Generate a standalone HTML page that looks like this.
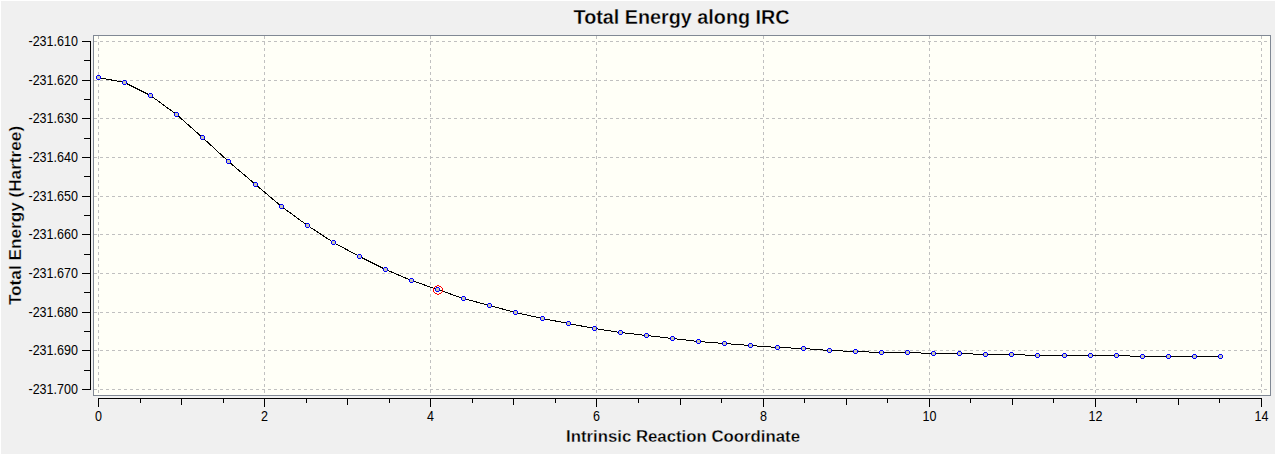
<!DOCTYPE html>
<html><head><meta charset="utf-8"><style>
html,body{margin:0;padding:0;background:#F0F0F0;overflow:hidden;width:1275px;height:454px}
svg{display:block}
text{font-family:"Liberation Sans",sans-serif}
</style></head><body>
<svg width="1275" height="454" viewBox="0 0 1275 454" shape-rendering="crispEdges">
<rect x="0" y="0" width="1275" height="454" fill="#F0F0F0"/>
<path d="M0 0h1275v1h-1275zM0 0h1v454h-1z" fill="#FFFFFF"/>
<rect x="93" y="35" width="1178" height="361" fill="#808894"/>
<rect x="94" y="36" width="1176" height="359" fill="#FFFFF7"/>
<path d="M98.5 36V395 M264.5 36V395 M430.5 36V395 M596.5 36V395 M763.5 36V395 M929.5 36V395 M1095.5 36V395 M1261.5 36V395 M94 41.5H1270 M94 80.5H1270 M94 118.5H1270 M94 157.5H1270 M94 196.5H1270 M94 234.5H1270 M94 273.5H1270 M94 312.5H1270 M94 350.5H1270 M94 389.5H1270" stroke="#C0C0C0" stroke-width="1" stroke-dasharray="3 3" fill="none"/>
<path d="M90.5 41V390 M82 41.5H90 M82 80.5H90 M82 118.5H90 M82 157.5H90 M82 196.5H90 M82 234.5H90 M82 273.5H90 M82 312.5H90 M82 350.5H90 M82 389.5H90 M84 60.5H90 M84 99.5H90 M84 138.5H90 M84 176.5H90 M84 215.5H90 M84 254.5H90 M84 292.5H90 M84 331.5H90 M84 370.5H90 M98 398.5H1262 M98.5 399V407 M140.5 399V403 M181.5 399V405 M223.5 399V403 M264.5 399V407 M306.5 399V403 M347.5 399V405 M389.5 399V403 M430.5 399V407 M472.5 399V403 M513.5 399V405 M555.5 399V403 M596.5 399V407 M638.5 399V403 M680.5 399V405 M721.5 399V403 M763.5 399V407 M804.5 399V403 M846.5 399V405 M887.5 399V403 M929.5 399V407 M970.5 399V403 M1012.5 399V405 M1053.5 399V403 M1095.5 399V407 M1136.5 399V403 M1178.5 399V405 M1219.5 399V403 M1261.5 399V407" stroke="#000" stroke-width="1" fill="none"/>
<path d="M98.5 77.5 L124.5 82.5 L150.5 95.5 L176.5 114.5 L202.5 137.5 L228.5 161.5 L255.5 184.5 L281.5 206.5 L307.5 225.5 L333.5 242.5 L359.5 256.5 L385.5 269.5 L411.5 280.5 L437.5 289.5 L463.5 298.5 L489.5 305.5 L515.5 312.5 L542.5 318.5 L568.5 323.5 L594.5 328.5 L620.5 332.5 L646.5 335.5 L672.5 338.5 L698.5 341.5 L724.5 343.5 L750.5 345.5 L777.5 347.5 L803.5 348.5 L829.5 350.5 L855.5 351.5 L881.5 352.5 L907.5 352.5 L933.5 353.5 L959.5 353.5 L985.5 354.5 L1011.5 354.5 L1037.5 355.5 L1064.5 355.5 L1090.5 355.5 L1116.5 355.5 L1142.5 356.5 L1168.5 356.5 L1194.5 356.5 L1220.5 356.5" stroke="#000" stroke-width="1" fill="none"/>
<rect x="97" y="76" width="3" height="3" fill="#C8C7B4"/>
<path d="M97 75h3v1h-3zM97 79h3v1h-3zM96 76h1v3h-1zM100 76h1v3h-1z" fill="#0000FF"/>
<rect x="123" y="81" width="3" height="3" fill="#C8C7B4"/>
<path d="M123 80h3v1h-3zM123 84h3v1h-3zM122 81h1v3h-1zM126 81h1v3h-1z" fill="#0000FF"/>
<rect x="149" y="94" width="3" height="3" fill="#C8C7B4"/>
<path d="M149 93h3v1h-3zM149 97h3v1h-3zM148 94h1v3h-1zM152 94h1v3h-1z" fill="#0000FF"/>
<rect x="175" y="113" width="3" height="3" fill="#C8C7B4"/>
<path d="M175 112h3v1h-3zM175 116h3v1h-3zM174 113h1v3h-1zM178 113h1v3h-1z" fill="#0000FF"/>
<rect x="201" y="136" width="3" height="3" fill="#C8C7B4"/>
<path d="M201 135h3v1h-3zM201 139h3v1h-3zM200 136h1v3h-1zM204 136h1v3h-1z" fill="#0000FF"/>
<rect x="227" y="160" width="3" height="3" fill="#C8C7B4"/>
<path d="M227 159h3v1h-3zM227 163h3v1h-3zM226 160h1v3h-1zM230 160h1v3h-1z" fill="#0000FF"/>
<rect x="254" y="183" width="3" height="3" fill="#C8C7B4"/>
<path d="M254 182h3v1h-3zM254 186h3v1h-3zM253 183h1v3h-1zM257 183h1v3h-1z" fill="#0000FF"/>
<rect x="280" y="205" width="3" height="3" fill="#C8C7B4"/>
<path d="M280 204h3v1h-3zM280 208h3v1h-3zM279 205h1v3h-1zM283 205h1v3h-1z" fill="#0000FF"/>
<rect x="306" y="224" width="3" height="3" fill="#C8C7B4"/>
<path d="M306 223h3v1h-3zM306 227h3v1h-3zM305 224h1v3h-1zM309 224h1v3h-1z" fill="#0000FF"/>
<rect x="332" y="241" width="3" height="3" fill="#C8C7B4"/>
<path d="M332 240h3v1h-3zM332 244h3v1h-3zM331 241h1v3h-1zM335 241h1v3h-1z" fill="#0000FF"/>
<rect x="358" y="255" width="3" height="3" fill="#C8C7B4"/>
<path d="M358 254h3v1h-3zM358 258h3v1h-3zM357 255h1v3h-1zM361 255h1v3h-1z" fill="#0000FF"/>
<rect x="384" y="268" width="3" height="3" fill="#C8C7B4"/>
<path d="M384 267h3v1h-3zM384 271h3v1h-3zM383 268h1v3h-1zM387 268h1v3h-1z" fill="#0000FF"/>
<rect x="410" y="279" width="3" height="3" fill="#C8C7B4"/>
<path d="M410 278h3v1h-3zM410 282h3v1h-3zM409 279h1v3h-1zM413 279h1v3h-1z" fill="#0000FF"/>
<rect x="436" y="288" width="3" height="3" fill="#C8C7B4"/>
<path d="M436 287h3v1h-3zM436 291h3v1h-3zM435 288h1v3h-1zM439 288h1v3h-1z" fill="#0000FF"/>
<rect x="462" y="297" width="3" height="3" fill="#C8C7B4"/>
<path d="M462 296h3v1h-3zM462 300h3v1h-3zM461 297h1v3h-1zM465 297h1v3h-1z" fill="#0000FF"/>
<rect x="488" y="304" width="3" height="3" fill="#C8C7B4"/>
<path d="M488 303h3v1h-3zM488 307h3v1h-3zM487 304h1v3h-1zM491 304h1v3h-1z" fill="#0000FF"/>
<rect x="514" y="311" width="3" height="3" fill="#C8C7B4"/>
<path d="M514 310h3v1h-3zM514 314h3v1h-3zM513 311h1v3h-1zM517 311h1v3h-1z" fill="#0000FF"/>
<rect x="541" y="317" width="3" height="3" fill="#C8C7B4"/>
<path d="M541 316h3v1h-3zM541 320h3v1h-3zM540 317h1v3h-1zM544 317h1v3h-1z" fill="#0000FF"/>
<rect x="567" y="322" width="3" height="3" fill="#C8C7B4"/>
<path d="M567 321h3v1h-3zM567 325h3v1h-3zM566 322h1v3h-1zM570 322h1v3h-1z" fill="#0000FF"/>
<rect x="593" y="327" width="3" height="3" fill="#C8C7B4"/>
<path d="M593 326h3v1h-3zM593 330h3v1h-3zM592 327h1v3h-1zM596 327h1v3h-1z" fill="#0000FF"/>
<rect x="619" y="331" width="3" height="3" fill="#C8C7B4"/>
<path d="M619 330h3v1h-3zM619 334h3v1h-3zM618 331h1v3h-1zM622 331h1v3h-1z" fill="#0000FF"/>
<rect x="645" y="334" width="3" height="3" fill="#C8C7B4"/>
<path d="M645 333h3v1h-3zM645 337h3v1h-3zM644 334h1v3h-1zM648 334h1v3h-1z" fill="#0000FF"/>
<rect x="671" y="337" width="3" height="3" fill="#C8C7B4"/>
<path d="M671 336h3v1h-3zM671 340h3v1h-3zM670 337h1v3h-1zM674 337h1v3h-1z" fill="#0000FF"/>
<rect x="697" y="340" width="3" height="3" fill="#C8C7B4"/>
<path d="M697 339h3v1h-3zM697 343h3v1h-3zM696 340h1v3h-1zM700 340h1v3h-1z" fill="#0000FF"/>
<rect x="723" y="342" width="3" height="3" fill="#C8C7B4"/>
<path d="M723 341h3v1h-3zM723 345h3v1h-3zM722 342h1v3h-1zM726 342h1v3h-1z" fill="#0000FF"/>
<rect x="749" y="344" width="3" height="3" fill="#C8C7B4"/>
<path d="M749 343h3v1h-3zM749 347h3v1h-3zM748 344h1v3h-1zM752 344h1v3h-1z" fill="#0000FF"/>
<rect x="776" y="346" width="3" height="3" fill="#C8C7B4"/>
<path d="M776 345h3v1h-3zM776 349h3v1h-3zM775 346h1v3h-1zM779 346h1v3h-1z" fill="#0000FF"/>
<rect x="802" y="347" width="3" height="3" fill="#C8C7B4"/>
<path d="M802 346h3v1h-3zM802 350h3v1h-3zM801 347h1v3h-1zM805 347h1v3h-1z" fill="#0000FF"/>
<rect x="828" y="349" width="3" height="3" fill="#C8C7B4"/>
<path d="M828 348h3v1h-3zM828 352h3v1h-3zM827 349h1v3h-1zM831 349h1v3h-1z" fill="#0000FF"/>
<rect x="854" y="350" width="3" height="3" fill="#C8C7B4"/>
<path d="M854 349h3v1h-3zM854 353h3v1h-3zM853 350h1v3h-1zM857 350h1v3h-1z" fill="#0000FF"/>
<rect x="880" y="351" width="3" height="3" fill="#C8C7B4"/>
<path d="M880 350h3v1h-3zM880 354h3v1h-3zM879 351h1v3h-1zM883 351h1v3h-1z" fill="#0000FF"/>
<rect x="906" y="351" width="3" height="3" fill="#C8C7B4"/>
<path d="M906 350h3v1h-3zM906 354h3v1h-3zM905 351h1v3h-1zM909 351h1v3h-1z" fill="#0000FF"/>
<rect x="932" y="352" width="3" height="3" fill="#C8C7B4"/>
<path d="M932 351h3v1h-3zM932 355h3v1h-3zM931 352h1v3h-1zM935 352h1v3h-1z" fill="#0000FF"/>
<rect x="958" y="352" width="3" height="3" fill="#C8C7B4"/>
<path d="M958 351h3v1h-3zM958 355h3v1h-3zM957 352h1v3h-1zM961 352h1v3h-1z" fill="#0000FF"/>
<rect x="984" y="353" width="3" height="3" fill="#C8C7B4"/>
<path d="M984 352h3v1h-3zM984 356h3v1h-3zM983 353h1v3h-1zM987 353h1v3h-1z" fill="#0000FF"/>
<rect x="1010" y="353" width="3" height="3" fill="#C8C7B4"/>
<path d="M1010 352h3v1h-3zM1010 356h3v1h-3zM1009 353h1v3h-1zM1013 353h1v3h-1z" fill="#0000FF"/>
<rect x="1036" y="354" width="3" height="3" fill="#C8C7B4"/>
<path d="M1036 353h3v1h-3zM1036 357h3v1h-3zM1035 354h1v3h-1zM1039 354h1v3h-1z" fill="#0000FF"/>
<rect x="1063" y="354" width="3" height="3" fill="#C8C7B4"/>
<path d="M1063 353h3v1h-3zM1063 357h3v1h-3zM1062 354h1v3h-1zM1066 354h1v3h-1z" fill="#0000FF"/>
<rect x="1089" y="354" width="3" height="3" fill="#C8C7B4"/>
<path d="M1089 353h3v1h-3zM1089 357h3v1h-3zM1088 354h1v3h-1zM1092 354h1v3h-1z" fill="#0000FF"/>
<rect x="1115" y="354" width="3" height="3" fill="#C8C7B4"/>
<path d="M1115 353h3v1h-3zM1115 357h3v1h-3zM1114 354h1v3h-1zM1118 354h1v3h-1z" fill="#0000FF"/>
<rect x="1141" y="355" width="3" height="3" fill="#C8C7B4"/>
<path d="M1141 354h3v1h-3zM1141 358h3v1h-3zM1140 355h1v3h-1zM1144 355h1v3h-1z" fill="#0000FF"/>
<rect x="1167" y="355" width="3" height="3" fill="#C8C7B4"/>
<path d="M1167 354h3v1h-3zM1167 358h3v1h-3zM1166 355h1v3h-1zM1170 355h1v3h-1z" fill="#0000FF"/>
<rect x="1193" y="355" width="3" height="3" fill="#C8C7B4"/>
<path d="M1193 354h3v1h-3zM1193 358h3v1h-3zM1192 355h1v3h-1zM1196 355h1v3h-1z" fill="#0000FF"/>
<rect x="1219" y="355" width="3" height="3" fill="#C8C7B4"/>
<path d="M1219 354h3v1h-3zM1219 358h3v1h-3zM1218 355h1v3h-1zM1222 355h1v3h-1z" fill="#0000FF"/>
<path d="M437 285h1v1h-1zM438 285h1v1h-1zM435 286h1v1h-1zM436 286h1v1h-1zM439 286h1v1h-1zM440 286h1v1h-1zM434 287h1v1h-1zM441 287h1v1h-1zM433 288h1v1h-1zM442 288h1v1h-1zM433 289h1v1h-1zM442 289h1v1h-1zM433 290h1v1h-1zM442 290h1v1h-1zM433 291h1v1h-1zM442 291h1v1h-1zM434 292h1v1h-1zM441 292h1v1h-1zM435 293h1v1h-1zM436 293h1v1h-1zM439 293h1v1h-1zM440 293h1v1h-1zM437 294h1v1h-1zM438 294h1v1h-1z" fill="#FF0000"/>
<g font-family="Liberation Sans, sans-serif" fill="#000" shape-rendering="auto"><text transform="translate(78 46) scale(0.91 1)" text-anchor="end" font-size="13.8">-231.610</text>
<text transform="translate(78 85) scale(0.91 1)" text-anchor="end" font-size="13.8">-231.620</text>
<text transform="translate(78 123) scale(0.91 1)" text-anchor="end" font-size="13.8">-231.630</text>
<text transform="translate(78 162) scale(0.91 1)" text-anchor="end" font-size="13.8">-231.640</text>
<text transform="translate(78 201) scale(0.91 1)" text-anchor="end" font-size="13.8">-231.650</text>
<text transform="translate(78 239) scale(0.91 1)" text-anchor="end" font-size="13.8">-231.660</text>
<text transform="translate(78 278) scale(0.91 1)" text-anchor="end" font-size="13.8">-231.670</text>
<text transform="translate(78 317) scale(0.91 1)" text-anchor="end" font-size="13.8">-231.680</text>
<text transform="translate(78 355) scale(0.91 1)" text-anchor="end" font-size="13.8">-231.690</text>
<text transform="translate(78 394) scale(0.91 1)" text-anchor="end" font-size="13.8">-231.700</text>
<text transform="translate(98.5 421) scale(0.91 1)" text-anchor="middle" font-size="13.8">0</text>
<text transform="translate(264.5 421) scale(0.91 1)" text-anchor="middle" font-size="13.8">2</text>
<text transform="translate(430.5 421) scale(0.91 1)" text-anchor="middle" font-size="13.8">4</text>
<text transform="translate(596.5 421) scale(0.91 1)" text-anchor="middle" font-size="13.8">6</text>
<text transform="translate(763.5 421) scale(0.91 1)" text-anchor="middle" font-size="13.8">8</text>
<text transform="translate(929.5 421) scale(0.91 1)" text-anchor="middle" font-size="13.8">10</text>
<text transform="translate(1095.5 421) scale(0.91 1)" text-anchor="middle" font-size="13.8">12</text>
<text transform="translate(1261.5 421) scale(0.91 1)" text-anchor="middle" font-size="13.8">14</text>
<text x="681.6" y="24" text-anchor="middle" font-size="19.8" font-weight="bold" stroke="#F0F0F0" stroke-width="0.3">Total Energy along IRC</text>
<text x="683" y="442" text-anchor="middle" font-size="16.8" font-weight="bold" stroke="#F0F0F0" stroke-width="0.3">Intrinsic Reaction Coordinate</text>
<text transform="translate(21 215.5) rotate(-90)" x="0" y="0" text-anchor="middle" font-size="17.2" font-weight="bold" stroke="#F0F0F0" stroke-width="0.3">Total Energy (Hartree)</text></g>
</svg></body></html>
